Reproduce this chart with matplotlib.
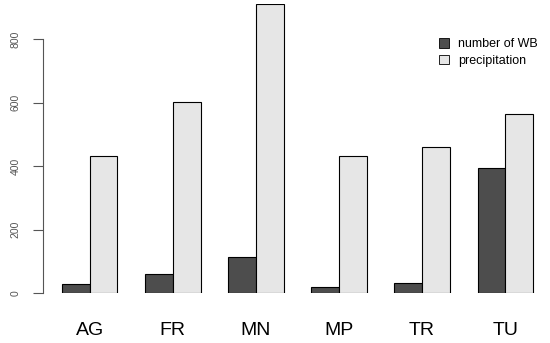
import matplotlib
matplotlib.use("Agg")
import matplotlib.pyplot as plt
import numpy as np
from matplotlib.patches import Patch

plt.rcParams["font.family"] = ["Liberation Sans", "DejaVu Sans"]

# data
sites = ["AG", "FR", "MN", "MP", "TR", "TU"]
number_of_wb = [28, 61, 115, 19, 32, 395]
precipitation = [432, 602, 910, 432, 462, 565]
y_ticks = [0, 200, 400, 600, 800]

DARK = "#4d4d4d"
LIGHT = "#e6e6e6"

fig = plt.figure(figsize=(5.5, 3.43), dpi=100)
# axes placed so left spine sits at px 43 and baseline at px 293
ax = fig.add_axes([43 / 550, (343 - 293.3) / 343, (550 - 43) / 550, (293.3 - 4.3) / 343])

# R barplot(beside=TRUE) layout: groups of 2 unit bars, 1 unit gap
xs = np.arange(len(sites)) * 3 + 1
ax.bar(xs, number_of_wb, width=1, align="edge", color=DARK, edgecolor="black", linewidth=0.8)
ax.bar(xs + 1, precipitation, width=1, align="edge", color=LIGHT, edgecolor="black", linewidth=0.8)

ax.set_xlim((43 - 34.3) / 27.7, (550 - 34.3) / 27.7)
ax.set_ylim(0, 910)

for s in ["top", "right", "bottom"]:
    ax.spines[s].set_visible(False)
ax.spines["left"].set_bounds(0, 800)
ax.spines["left"].set_color("#555555")

ax.set_yticks(y_ticks)
ax.set_yticklabels([str(t) for t in y_ticks], rotation=90, va="center",
                   fontsize=7.5, color="#555555")
ax.tick_params(axis="y", length=7, color="#555555", pad=9)

ax.set_xticks(xs + 1)
ax.set_xticklabels(sites, fontsize=14)
ax.tick_params(axis="x", length=0, pad=21)

handles = [Patch(facecolor=DARK, edgecolor="black", linewidth=0.6),
           Patch(facecolor=LIGHT, edgecolor="black", linewidth=0.6)]
ax.legend(handles, ["number of WB", "precipitation"], loc="upper left",
          bbox_to_anchor=(433 / 550, (343 - 32) / 343), bbox_transform=fig.transFigure,
          frameon=False, fontsize=9, borderpad=0,
          handlelength=0.8, handleheight=0.8, handletextpad=0.7, labelspacing=0.35)

fig.savefig("out.png", dpi=100)
